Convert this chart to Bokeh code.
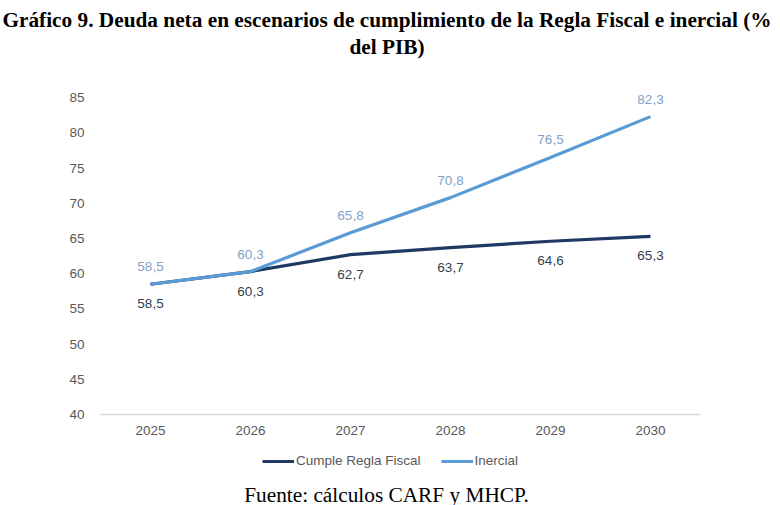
from bokeh.plotting import figure
from bokeh.models import (ColumnDataSource, Label, Legend, LegendItem, Div,
                          SingleIntervalTicker, Range1d, FactorRange)
from bokeh.layouts import column
from bokeh.embed import file_html
from bokeh.resources import INLINE
from bokeh.core.properties import value

years = ["2025", "2026", "2027", "2028", "2029", "2030"]
cumple = [58.5, 60.3, 62.7, 63.7, 64.6, 65.3]
inercial = [58.5, 60.3, 65.8, 70.8, 76.5, 82.3]
cumple_lbl = ["58,5", "60,3", "62,7", "63,7", "64,6", "65,3"]
inercial_lbl = ["58,5", "60,3", "65,8", "70,8", "76,5", "82,3"]

title1 = "Gráfico 9. Deuda neta en escenarios de cumplimiento de la Regla Fiscal e inercial (%"
title2 = "del PIB)"
footer = "Fuente: cálculos CARF y MHCP."
names = ["Cumple Regla Fiscal", "Inercial"]

DARK = "#203864"
LIGHT = "#5B9BD5"
SANS = "Liberation Sans"
SERIF = "Liberation Serif"

src = ColumnDataSource(dict(x=years, c=cumple, i=inercial, cl=cumple_lbl, il=inercial_lbl))


def blank(fig):
    fig.grid.visible = False
    fig.outline_line_color = None
    fig.background_fill_color = "white"
    fig.border_fill_color = "white"
    fig.title.visible = False


# ---- title block ----
head = Div(text=("<div style=\"width:774px;text-align:center;white-space:nowrap;"
                 "font-family:'Liberation Serif';font-weight:bold;font-size:21.3px;"
                 "line-height:27px;color:black;padding-top:7px;margin:0;\">"
                 + title1 + "<br>" + title2 + "</div>"),
           width=780, height=70, margin=0)

# ---- main chart ----
p = figure(width=780, height=375, x_range=FactorRange(*years), y_range=Range1d(40, 88),
           output_backend="svg", toolbar_location=None,
           min_border_left=100, min_border_right=80, min_border_top=6, min_border_bottom=31)
blank(p)

r1 = p.line("x", "c", source=src, line_color=DARK, line_width=3.2)
r2 = p.line("x", "i", source=src, line_color=LIGHT, line_width=3.2)

p.text("x", "c", text="cl", source=src, y_offset=19.5, text_align="center",
       text_baseline="middle", text_font=value(SANS), text_font_size="13.5px",
       text_color="#333F50")
p.text("x", "i", text="il", source=src, y_offset=-17.5, text_align="center",
       text_baseline="middle", text_font=value(SANS), text_font_size="13.5px",
       text_color="#7FA3C8")

p.yaxis.ticker = SingleIntervalTicker(interval=5)
p.yaxis.axis_line_color = None
p.yaxis.major_tick_line_color = None
p.yaxis.minor_tick_line_color = None
p.yaxis.major_tick_out = 0
p.yaxis.major_tick_in = 0
p.yaxis.major_label_standoff = 12
p.yaxis.major_label_text_font = SANS
p.yaxis.major_label_text_font_size = "13.5px"
p.yaxis.major_label_text_color = "#595959"

p.xaxis.axis_line_color = "#D9D9D9"
p.xaxis.axis_line_width = 1.5
p.xaxis.major_tick_line_color = None
p.xaxis.minor_tick_line_color = None
p.xaxis.major_tick_out = 0
p.xaxis.major_tick_in = 0
p.xaxis.major_label_standoff = 11
p.xaxis.major_label_text_font = SANS
p.xaxis.major_label_text_font_size = "13.5px"
p.xaxis.major_label_text_color = "#595959"

# ---- legend + source note ----
q = figure(width=780, height=60, x_range=FactorRange(*years), y_range=Range1d(0, 1),
           output_backend="svg", toolbar_location=None,
           x_axis_location=None, y_axis_location=None,
           min_border_left=0, min_border_right=0, min_border_top=0, min_border_bottom=0)
blank(q)
l1 = q.line("x", "c", source=src, line_color=DARK, line_width=3.2)
l2 = q.line("x", "i", source=src, line_color=LIGHT, line_width=3.2)
legend = Legend(items=[LegendItem(label=names[0], renderers=[l1]),
                       LegendItem(label=names[1], renderers=[l2])],
                location=(162, 37), orientation="horizontal",
                glyph_width=32, glyph_height=14, label_standoff=2, spacing=20,
                padding=0, margin=0, border_line_color=None, background_fill_alpha=0,
                label_text_font=SANS, label_text_font_size="13.5px",
                label_text_color="#595959")
q.add_layout(legend)
q.add_layout(Label(x=286, y=11, x_units="screen", y_units="screen", text=footer,
                   text_align="center", text_baseline="alphabetic",
                   text_font=SERIF, text_font_size="21.3px", text_color="black"))

open("out.html", "w").write(file_html(column(head, p, q, spacing=0), INLINE))
